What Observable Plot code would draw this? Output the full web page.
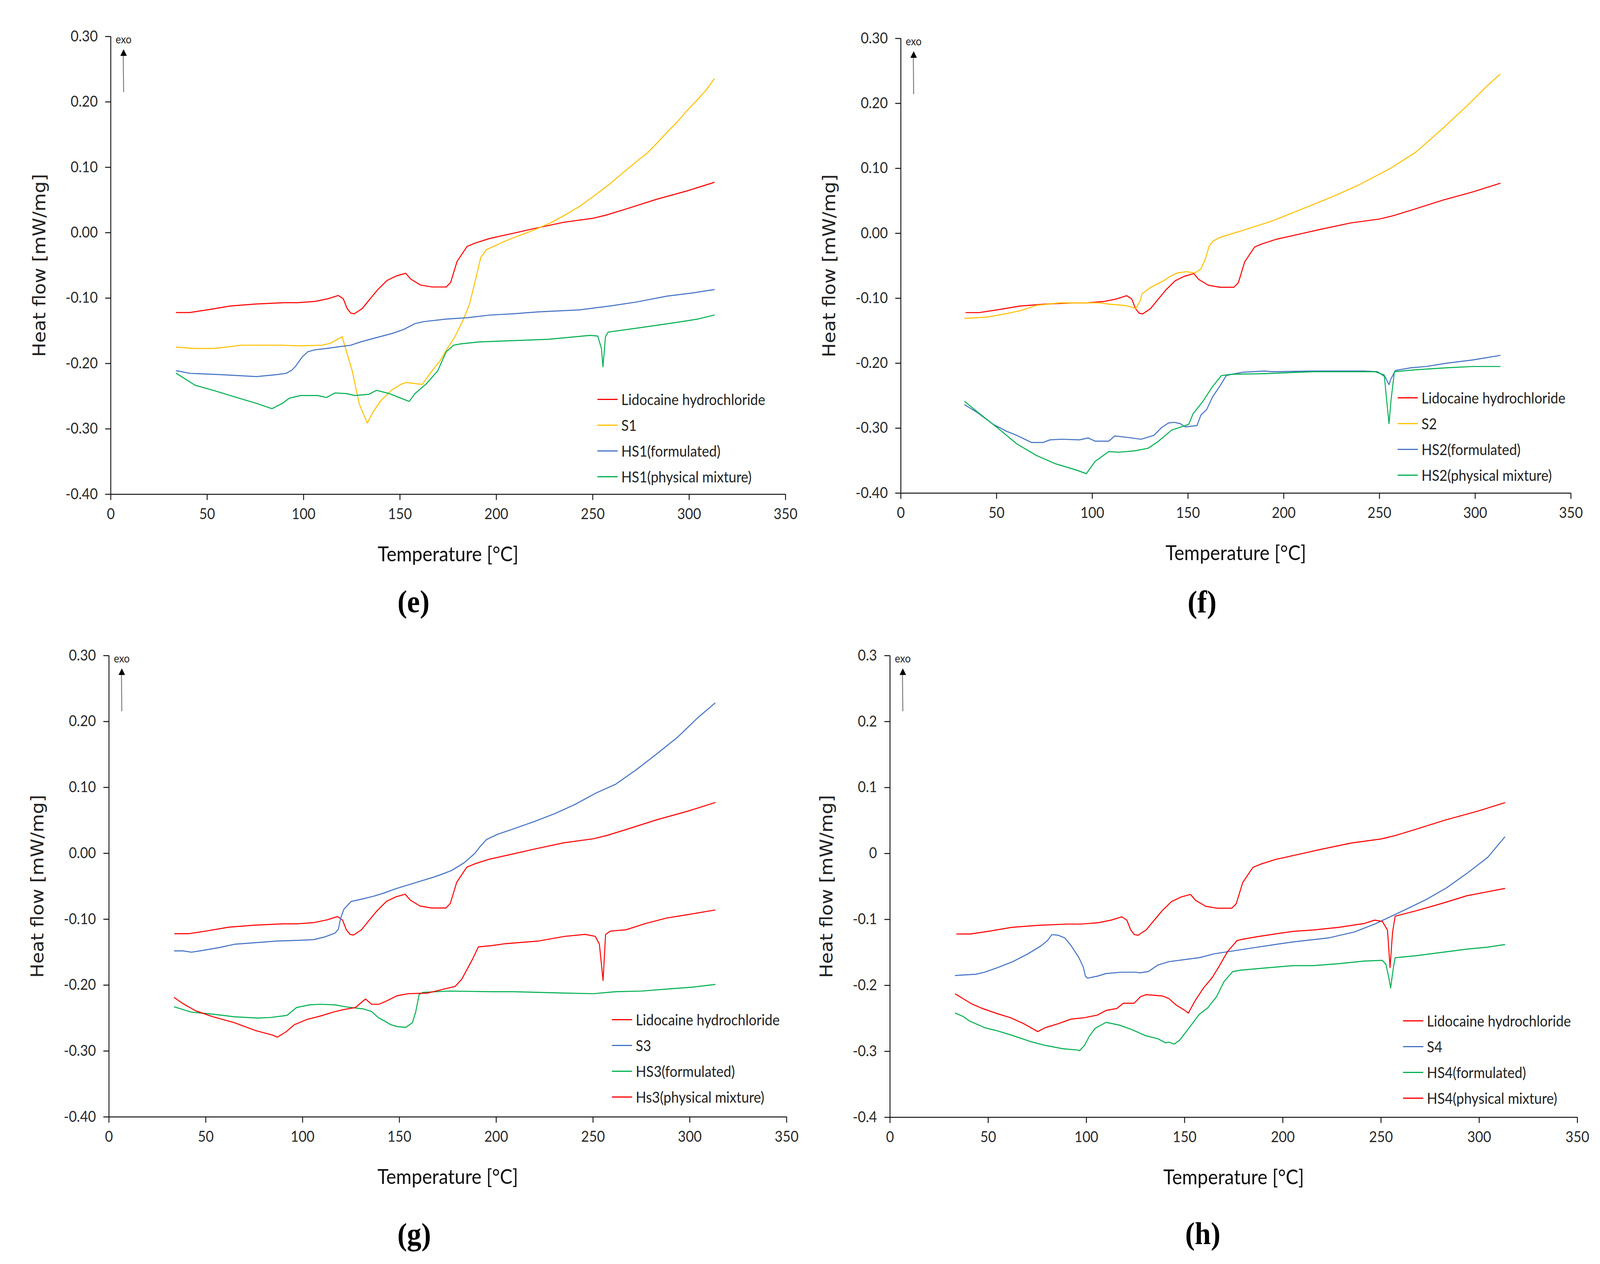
<!DOCTYPE html>
<html>
<head>
<meta charset="utf-8">
<script src="https://cdn.jsdelivr.net/npm/d3@7"></script>
<script src="https://cdn.jsdelivr.net/npm/@observablehq/plot@0.6"></script>
<style>
  html, body { margin: 0; padding: 0; background: #fff; overflow: hidden; }
  #page { position: relative; width: 4427px; height: 3236px; background: #fff; overflow: hidden; transform-origin: 0 0; }
  .panel { position: absolute; }
  .legend { position: absolute; font-family: Lato, sans-serif; font-size: 38px; color: #222; }
  .legend .row { height: 66px; display: flex; align-items: center; white-space: nowrap; }
  .legend .sw { width: 56px; height: 3px; margin-right: 10px; }
  .caption { position: absolute; font-family: "Liberation Serif", serif; font-weight: bold; font-size: 80px; color: #000; transform: translate(-50%, -50%); line-height: 1; }
  .exo { position: absolute; overflow: visible; }
</style>
</head>
<body>
<div id="page"></div>
<script>
// ---------- data ----------
const xDomain = [0, 350];
const yDomain = [-0.4, 0.3];
const xTicks = [0, 50, 100, 150, 200, 250, 300, 350];
const yTicks = [-0.4, -0.3, -0.2, -0.1, 0, 0.1, 0.2, 0.3];
const xTitle = "Temperature [°C]";
const yTitle = "Heat flow [mW/mg]";
const exoLabel = "exo";
const captions = ["(e)", "(f)", "(g)", "(h)"];

const namesE = ["Lidocaine hydrochloride", "S1", "HS1(formulated)", "HS1(physical mixture)"];
const namesF = ["Lidocaine hydrochloride", "S2", "HS2(formulated)", "HS2(physical mixture)"];
const namesG = ["Lidocaine hydrochloride", "S3", "HS3(formulated)", "Hs3(physical mixture)"];
const namesH = ["Lidocaine hydrochloride", "S4", "HS4(formulated)", "HS4(physical mixture)"];
const colorsE = ["#FF0000", "#FFC000", "#4472C4", "#00B050"];
const colorsF = ["#FF0000", "#FFC000", "#4472C4", "#00B050"];
const colorsG = ["#FF0000", "#4472C4", "#00B050", "#FF0000"];
const colorsH = ["#FF0000", "#4472C4", "#00B050", "#FF0000"];

// [temperature °C, heat flow mW/mg]
const lidocaine = [[34,-0.122],[41,-0.122],[50,-0.118],[62,-0.112],[75,-0.109],[90,-0.107],[97,-0.107],[106,-0.105],[112.6,-0.101],[118,-0.096],[120.6,-0.101],[122.6,-0.116],[124.5,-0.123],[126.3,-0.124],[130.4,-0.116],[134,-0.103],[138.5,-0.087],[143.3,-0.073],[148.2,-0.066],[153,-0.062],[155.6,-0.071],[160.7,-0.080],[166.7,-0.083],[174,-0.083],[176.3,-0.076],[179.6,-0.044],[184.8,-0.021],[188.9,-0.016],[196.3,-0.009],[208.5,-0.001],[219,0.006],[235,0.016],[250,0.022],[257,0.027],[267,0.036],[283,0.051],[299,0.064],[313,0.077]];

const s1 = [[34,-0.175],[44,-0.177],[54,-0.177],[68,-0.172],[89,-0.172],[97,-0.173],[109.6,-0.172],[114,-0.169],[120,-0.159],[122.6,-0.185],[125.2,-0.211],[128.9,-0.262],[133,-0.291],[136.3,-0.273],[140,-0.257],[146,-0.240],[151.1,-0.231],[153.3,-0.229],[161.5,-0.232],[166.7,-0.211],[171,-0.195],[174.8,-0.176],[178.5,-0.159],[183,-0.132],[186,-0.110],[188.2,-0.084],[191.9,-0.038],[194.8,-0.026],[198.5,-0.021],[203.7,-0.014],[208.5,-0.008],[215,-0.001],[221,0.006],[228,0.015],[235,0.026],[243,0.040],[251,0.057],[259,0.075],[267,0.095],[274,0.112],[278,0.121],[283,0.136],[288,0.152],[294,0.170],[299,0.187],[304.5,0.204],[309,0.219],[313,0.235]];
const hs1f = [[34,-0.211],[41,-0.215],[57,-0.217],[75.6,-0.220],[86,-0.217],[91,-0.215],[94,-0.210],[95.9,-0.204],[99.3,-0.190],[102.2,-0.182],[106,-0.179],[111.9,-0.177],[119.3,-0.174],[124.5,-0.172],[129.6,-0.167],[137,-0.161],[146,-0.154],[151.9,-0.148],[157.8,-0.139],[162.2,-0.136],[174,-0.132],[185,-0.130],[196.3,-0.126],[208.5,-0.124],[222,-0.121],[243,-0.118],[259,-0.112],[272.6,-0.106],[288.5,-0.097],[302,-0.092],[313,-0.087]];
const hs1pm = [[34,-0.215],[43.6,-0.233],[54.3,-0.242],[67.6,-0.254],[75.6,-0.261],[83.6,-0.269],[89,-0.261],[92.6,-0.253],[98.5,-0.249],[107.4,-0.249],[111.9,-0.252],[116.3,-0.245],[122.2,-0.246],[126.7,-0.249],[134,-0.247],[137.8,-0.241],[144.5,-0.246],[154.8,-0.258],[157.8,-0.246],[163.7,-0.231],[169.6,-0.211],[174,-0.182],[177.8,-0.172],[181.5,-0.170],[191.1,-0.167],[208.5,-0.165],[227,-0.163],[248.6,-0.157],[252.6,-0.158],[254.5,-0.177],[255.3,-0.205],[256.6,-0.159],[258,-0.152],[275,-0.145],[293.9,-0.137],[304.5,-0.132],[313,-0.126]];

const s2 = [[33.4,-0.131],[44.7,-0.129],[54.4,-0.124],[62.6,-0.119],[70.8,-0.111],[83,-0.107],[96.3,-0.107],[103.5,-0.107],[108.6,-0.109],[116.8,-0.111],[119.9,-0.113],[122.7,-0.116],[125,-0.104],[126,-0.093],[130.1,-0.084],[137.3,-0.073],[140.3,-0.067],[144.4,-0.061],[149,-0.059],[153.6,-0.061],[156.7,-0.055],[159,-0.040],[161,-0.020],[163,-0.012],[167,-0.006],[178,0.004],[194,0.019],[210,0.038],[226,0.057],[239.6,0.075],[255.7,0.100],[269,0.125],[282.5,0.160],[296,0.197],[306.6,0.228],[313,0.245]];
const hs2f = [[33.4,-0.264],[40,-0.276],[48.2,-0.294],[55.4,-0.305],[60.5,-0.311],[68.2,-0.322],[74.3,-0.322],[77.9,-0.318],[84,-0.317],[93.3,-0.318],[97.9,-0.315],[101.5,-0.320],[108.6,-0.320],[111.7,-0.312],[117.8,-0.314],[125.5,-0.317],[132.2,-0.311],[136.2,-0.299],[139.8,-0.292],[142.9,-0.291],[146,-0.293],[148.5,-0.298],[154.7,-0.296],[156.7,-0.280],[159.8,-0.271],[162.8,-0.252],[166.9,-0.234],[170,-0.219],[173,-0.217],[178.2,-0.214],[190,-0.212],[194,-0.213],[215.5,-0.212],[242,-0.212],[249,-0.213],[253,-0.221],[255,-0.233],[256,-0.224],[258.4,-0.211],[266.4,-0.207],[274.5,-0.205],[285,-0.200],[298.6,-0.195],[313,-0.188]];
const hs2pm = [[33.4,-0.259],[40,-0.275],[50.3,-0.299],[60.5,-0.324],[70.8,-0.342],[81,-0.355],[91.2,-0.364],[96.9,-0.370],[101.5,-0.351],[108.6,-0.336],[113.7,-0.337],[121.9,-0.335],[129.1,-0.331],[134.2,-0.321],[141.4,-0.303],[147.5,-0.297],[150.4,-0.294],[152.6,-0.278],[157.7,-0.259],[162.8,-0.236],[167.4,-0.219],[173,-0.217],[190,-0.216],[215.5,-0.213],[247.6,-0.213],[252.5,-0.218],[253.8,-0.258],[255,-0.293],[256,-0.258],[257.8,-0.213],[269,-0.210],[285,-0.207],[298.6,-0.205],[313,-0.205]];

const s3 = [[33.8,-0.148],[38.2,-0.148],[42.6,-0.150],[47,-0.148],[57,-0.143],[64.8,-0.138],[73.6,-0.136],[86.9,-0.133],[98,-0.132],[105.7,-0.131],[111.3,-0.127],[116.8,-0.121],[118.5,-0.115],[119.6,-0.099],[121.3,-0.085],[125.1,-0.073],[131.2,-0.069],[136.8,-0.065],[142.3,-0.060],[147.8,-0.054],[153.4,-0.049],[160,-0.043],[167.8,-0.036],[171.7,-0.032],[177,-0.026],[183.6,-0.014],[189,0.000],[191.6,0.010],[195,0.021],[200.8,0.029],[208.8,0.037],[219.4,0.048],[230,0.060],[240.6,0.074],[251.2,0.091],[261.8,0.105],[272.4,0.127],[283,0.151],[293.6,0.176],[304.2,0.206],[313,0.228]];
const hs3f = [[33.8,-0.233],[42.6,-0.241],[53.7,-0.244],[64.8,-0.248],[77,-0.250],[83.6,-0.249],[91.9,-0.246],[96.9,-0.234],[103.5,-0.230],[109.1,-0.229],[116.8,-0.230],[122.4,-0.233],[131.2,-0.236],[135.6,-0.240],[139,-0.249],[145.6,-0.260],[149,-0.263],[153.4,-0.264],[156.7,-0.257],[158.4,-0.241],[160.2,-0.214],[162.2,-0.211],[175.5,-0.209],[197.7,-0.210],[208.8,-0.210],[235.3,-0.212],[250,-0.213],[261.8,-0.210],[275,-0.209],[288.3,-0.206],[301.5,-0.203],[313,-0.199]];
const hs3pm = [[33.8,-0.219],[38.2,-0.228],[44.8,-0.239],[53.7,-0.248],[64.8,-0.257],[75.8,-0.269],[84.7,-0.276],[86.9,-0.279],[91.4,-0.271],[95.8,-0.260],[102.4,-0.252],[109.1,-0.247],[115.7,-0.241],[121.3,-0.237],[127.3,-0.234],[130.1,-0.227],[132.5,-0.221],[135.6,-0.229],[139.5,-0.229],[143.4,-0.224],[148.9,-0.216],[154.5,-0.213],[164.4,-0.212],[168.9,-0.209],[174.4,-0.205],[178.8,-0.202],[182.2,-0.191],[185.5,-0.173],[187.7,-0.161],[190.8,-0.142],[197.7,-0.140],[204.9,-0.137],[222,-0.133],[235.3,-0.126],[245.9,-0.123],[251.2,-0.126],[253.3,-0.138],[255.2,-0.193],[256.5,-0.123],[259,-0.118],[267,-0.116],[277.7,-0.106],[288.3,-0.098],[298.9,-0.093],[313,-0.086]];

const s4 = [[33.3,-0.185],[43.8,-0.183],[48.2,-0.180],[54.8,-0.173],[62.5,-0.164],[70.3,-0.152],[76.9,-0.140],[80.2,-0.132],[82.4,-0.123],[85.7,-0.124],[89,-0.128],[92.3,-0.140],[96.2,-0.158],[98.4,-0.172],[99.5,-0.186],[100.6,-0.189],[105.6,-0.186],[110,-0.182],[117.7,-0.180],[125.4,-0.180],[127.1,-0.181],[131.5,-0.179],[136.5,-0.169],[142,-0.164],[149.7,-0.161],[157.4,-0.158],[165.2,-0.152],[174,-0.148],[185,-0.143],[196,-0.138],[205.4,-0.134],[223.3,-0.128],[236.4,-0.119],[246.8,-0.107],[254.6,-0.096],[262.5,-0.085],[272.9,-0.070],[283.4,-0.052],[293.8,-0.030],[304.3,-0.006],[313,0.025]];
const hs4f = [[33.3,-0.242],[37.2,-0.247],[40.5,-0.254],[48.2,-0.264],[54.8,-0.269],[62.5,-0.276],[71.4,-0.285],[79.1,-0.291],[88,-0.296],[95.6,-0.298],[96.5,-0.299],[99,-0.291],[101.7,-0.276],[104.5,-0.265],[110,-0.256],[116.6,-0.260],[123.2,-0.267],[129.9,-0.276],[136.5,-0.281],[140.3,-0.287],[142,-0.286],[144.7,-0.289],[147.5,-0.283],[151.9,-0.266],[157.4,-0.244],[161.8,-0.234],[166.3,-0.217],[170.1,-0.194],[174.5,-0.179],[178.4,-0.177],[189.4,-0.174],[205.4,-0.170],[215.5,-0.170],[228.5,-0.167],[241.6,-0.163],[250.7,-0.162],[252.5,-0.168],[253.9,-0.187],[254.9,-0.204],[256.2,-0.175],[257.2,-0.158],[267.7,-0.155],[280.7,-0.150],[293.8,-0.145],[304.3,-0.142],[313,-0.138]];
const hs4pm = [[33.3,-0.213],[37.2,-0.220],[41.6,-0.228],[47.1,-0.235],[54.8,-0.243],[61.4,-0.249],[68.1,-0.258],[75.2,-0.270],[79.1,-0.264],[85.7,-0.258],[92.3,-0.251],[99,-0.249],[105.6,-0.245],[110,-0.238],[115.5,-0.235],[118.8,-0.227],[124.3,-0.227],[127.6,-0.217],[130.4,-0.214],[138.7,-0.216],[142,-0.220],[145.8,-0.230],[149.7,-0.237],[151.9,-0.242],[155.2,-0.224],[159.6,-0.204],[164.1,-0.188],[167.4,-0.172],[171.8,-0.149],[176.7,-0.132],[179.5,-0.130],[187.2,-0.126],[196,-0.122],[205.4,-0.118],[215.5,-0.116],[228.5,-0.112],[241.6,-0.106],[246.8,-0.101],[250.7,-0.103],[253.3,-0.116],[254.6,-0.173],[255.9,-0.119],[257.2,-0.095],[267.7,-0.087],[280.7,-0.076],[293.8,-0.064],[304.3,-0.058],[313,-0.053]];

// ---------- layout (positions/styles only) ----------
const fmt2 = d => d.toFixed(2);
const fmt1 = d => (d === 0 ? "0" : d.toFixed(1));

const panels = [
  { names: namesE, colors: colorsE, series: [lidocaine, s1, hs1f, hs1pm], fmt: fmt2, caption: captions[0],
    left: 0, top: 0, width: 2214, height: 1470, mL: 306, mR: 41, mT: 93, mB: 205, yDx: -196,
    legend: { left: 1653, top: 989 }, cap: { x: 1144, y: 1540 } },
  { names: namesF, colors: colorsF, series: [lidocaine, s2, hs2f, hs2pm], fmt: fmt2, caption: captions[1],
    left: 2214, top: 0, width: 2213, height: 1470, mL: 278, mR: 81, mT: 98, mB: 208, yDx: -197,
    legend: { left: 3867, top: 985 }, cap: { x: 3326, y: 1541 } },
  { names: namesG, colors: colorsG, series: [lidocaine, s3, hs3f, hs3pm], fmt: fmt2, caption: captions[2],
    left: 0, top: 1618, width: 2214, height: 1470, mL: 301, mR: 38, mT: 60, mB: 229, yDx: -197,
    legend: { left: 1693, top: 2577 }, cap: { x: 1146, y: 3160 } },
  { names: namesH, colors: colorsH, series: [lidocaine, s4, hs4f, hs4pm], fmt: fmt1, caption: captions[3],
    left: 2214, top: 1618, width: 2213, height: 1470, mL: 248, mR: 63, mT: 60, mB: 228, yDx: -175,
    legend: { left: 3882, top: 2580 }, cap: { x: 3328, y: 3158 } }
];

const page = document.getElementById("page");

function fitPage() {
  const sx = window.innerWidth / 4427, sy = window.innerHeight / 3236;
  const same = Math.abs(sx - 1) < 0.002 && Math.abs(sy - 1) < 0.002;
  page.style.transform = (sx > 0 && sy > 0 && !same) ? `scale(${sx}, ${sy})` : "none";
}
fitPage();
window.addEventListener("resize", fitPage);

for (const p of panels) {
  const rows = [];
  p.series.forEach((arr, i) => arr.forEach(([t, v]) => rows.push({ series: p.names[i], t, v })));

  const chart = Plot.plot({
    width: p.width,
    height: p.height,
    marginLeft: p.mL,
    marginRight: p.mR,
    marginTop: p.mT,
    marginBottom: p.mB,
    style: { background: "#fff", color: "#222", fontFamily: "Lato, sans-serif", fontSize: "38px", overflow: "visible" },
    x: { domain: xDomain, label: null },
    y: { domain: yDomain, label: null },
    color: { domain: p.names, range: p.colors },
    marks: [
      Plot.axisX({ ticks: xTicks, tickSize: 15, tickPadding: 22, strokeWidth: 2.5, stroke: "#111", fill: "#2a2a2a", fontSize: 38, label: null }),
      Plot.axisY({ ticks: yTicks, tickFormat: p.fmt, tickSize: 15, tickPadding: 21, strokeWidth: 2.5, stroke: "#111", fill: "#2a2a2a", fontSize: 38, label: null }),
      Plot.ruleX([xDomain[0]], { stroke: "#111", strokeWidth: 2.5 }),
      Plot.ruleY([yDomain[0]], { stroke: "#111", strokeWidth: 2.5 }),
      Plot.line(rows, { x: "t", y: "v", z: "series", stroke: "series", strokeWidth: 2.7, strokeLinejoin: "round" }),
      Plot.text([xTitle], { text: d => d, frameAnchor: "bottom", lineAnchor: "middle", textAnchor: "middle", dy: 155, fontSize: 52, fontFamily: "Lato, sans-serif", fill: "#111" }),
      Plot.text([yTitle], { text: d => d, frameAnchor: "left", lineAnchor: "middle", textAnchor: "middle", dx: p.yDx, rotate: -90, fontSize: 48, fontFamily: "DejaVu Sans, sans-serif", fill: "#222" })
    ]
  });
  chart.classList.add("panel");
  chart.style.left = p.left + "px";
  chart.style.top = p.top + "px";
  chart.style.position = "absolute";
  page.appendChild(chart);

  // exo arrow annotation (relative to plot frame top-left)
  const fx = p.left + p.mL, fy = p.top + p.mT;
  const exo = d3.create("svg").attr("class", "exo").attr("width", 80).attr("height", 160)
    .style("left", (fx + 8) + "px").style("top", fy + "px");
  exo.append("text").attr("x", 6).attr("y", 18).attr("font-family", "Lato, sans-serif").attr("font-size", 28).attr("fill", "#222").text(exoLabel);
  exo.append("line").attr("x1", 27).attr("x2", 28).attr("y1", 45).attr("y2", 143).attr("stroke", "#777").attr("stroke-width", 2.5);
  exo.append("path").attr("d", "M28,33 L19,50 L37,50 Z").attr("fill", "#000");
  page.appendChild(exo.node());

  // legend
  const lg = document.createElement("div");
  lg.className = "legend";
  lg.style.left = p.legend.left + "px";
  lg.style.top = p.legend.top + "px";
  p.names.forEach((n, i) => {
    const row = document.createElement("div");
    row.className = "row";
    const sw = document.createElement("span");
    sw.className = "sw";
    sw.style.background = p.colors[i];
    const tx = document.createElement("span");
    tx.textContent = n;
    row.appendChild(sw); row.appendChild(tx);
    lg.appendChild(row);
  });
  page.appendChild(lg);

  // caption
  const cap = document.createElement("div");
  cap.className = "caption";
  cap.style.left = p.cap.x + "px";
  cap.style.top = p.cap.y + "px";
  cap.textContent = p.caption;
  page.appendChild(cap);
}
</script>
</body>
</html>
